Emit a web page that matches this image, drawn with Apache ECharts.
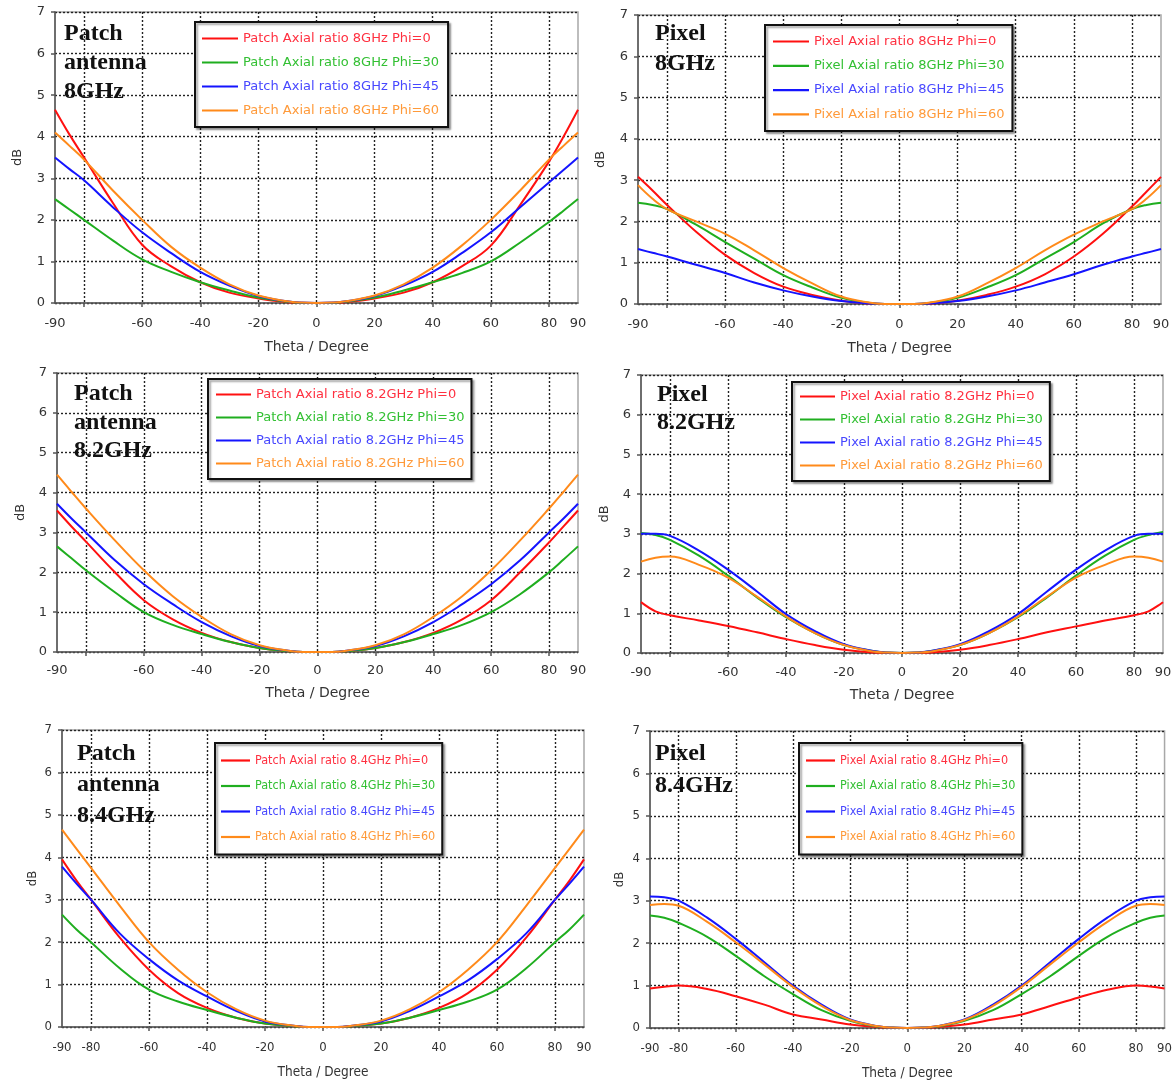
<!DOCTYPE html>
<html><head><meta charset="utf-8">
<script src="https://cdn.jsdelivr.net/npm/echarts@6/dist/echarts.min.js"></script>
<style>html,body{margin:0;padding:0;background:#fff}#c{width:1175px;height:1084px}</style>
</head><body><div id="c"></div><script>
// Theta (degrees) sample points
const theta = [-90,-85,-80,-70,-60,-50,-40,-30,-20,-10,-5,0,5,10,20,30,40,50,60,70,80,85,90];
const phiLabels = ['Phi=0','Phi=30','Phi=45','Phi=60'];
const xLabelsTop = [-90,-60,-40,-20,0,20,40,60,80,90];
const xLabelsBottom = [-90,-80,-60,-40,-20,0,20,40,60,80,90];
const xGridTicks = [-80,-60,-40,-20,0,20,40,60,80];

// Patch 8GHz
const p8_phi0  = [4.65,4.05,3.5,2.4,1.4,0.88,0.5,0.25,0.11,0.02,0,0,0,0.02,0.11,0.25,0.5,0.88,1.38,2.35,3.4,4.0,4.65];
const p8_phi30 = [2.5,2.25,2.0,1.5,1.05,0.75,0.5,0.3,0.13,0.03,0,0,0,0.03,0.13,0.3,0.5,0.72,1.0,1.45,1.95,2.22,2.5];
const p8_phi45 = [3.5,3.22,2.95,2.3,1.7,1.2,0.75,0.42,0.17,0.04,0.01,0,0.01,0.04,0.17,0.42,0.75,1.2,1.7,2.3,2.9,3.2,3.5];
const p8_phi60 = [4.1,3.78,3.45,2.7,2.0,1.35,0.85,0.45,0.18,0.04,0.01,0,0.01,0.04,0.18,0.45,0.85,1.38,2.0,2.7,3.45,3.78,4.1];
// Pixel 8GHz
const x8_phi0  = [3.08,2.75,2.4,1.75,1.19,0.75,0.42,0.22,0.08,0.01,0,0,0,0.01,0.08,0.22,0.42,0.72,1.15,1.7,2.36,2.72,3.08];
const x8_phi30 = [2.45,2.4,2.3,1.92,1.5,1.1,0.7,0.4,0.15,0.02,0,0,0,0.02,0.15,0.4,0.7,1.1,1.5,1.95,2.3,2.4,2.45];
const x8_phi45 = [1.33,1.24,1.15,0.95,0.75,0.52,0.33,0.18,0.07,0.01,0,0,0,0.01,0.07,0.18,0.33,0.52,0.72,0.95,1.15,1.24,1.33];
const x8_phi60 = [2.88,2.55,2.3,2.0,1.7,1.3,0.87,0.5,0.18,0.03,0,0,0,0.03,0.18,0.5,0.87,1.3,1.68,2.0,2.3,2.55,2.88];
// Patch 8.2GHz
const p82_phi0  = [3.55,3.15,2.77,2.0,1.3,0.82,0.48,0.25,0.1,0.02,0,0,0,0.02,0.1,0.25,0.48,0.82,1.3,2.0,2.75,3.15,3.55];
const p82_phi30 = [2.65,2.35,2.05,1.5,1.0,0.68,0.45,0.25,0.1,0.02,0,0,0,0.02,0.1,0.25,0.45,0.68,1.0,1.45,2.0,2.32,2.65];
const p82_phi45 = [3.72,3.35,3.0,2.3,1.7,1.2,0.75,0.4,0.15,0.03,0,0,0,0.03,0.15,0.4,0.75,1.2,1.7,2.3,3.0,3.35,3.72];
const p82_phi60 = [4.45,4.02,3.6,2.8,2.05,1.4,0.88,0.45,0.17,0.03,0,0,0,0.03,0.17,0.45,0.88,1.4,2.05,2.8,3.6,4.02,4.45];
// Pixel 8.2GHz
const x82_phi0  = [1.28,1.05,0.95,0.82,0.68,0.52,0.35,0.2,0.08,0.01,0,0,0,0.01,0.08,0.2,0.35,0.52,0.67,0.82,0.95,1.05,1.28];
const x82_phi30 = [3.02,2.97,2.85,2.45,1.95,1.4,0.9,0.5,0.2,0.05,0.01,0,0.01,0.05,0.2,0.5,0.9,1.4,1.95,2.45,2.85,2.97,3.05];
const x82_phi45 = [3.0,3.0,2.95,2.58,2.1,1.55,0.98,0.55,0.22,0.05,0.01,0,0.01,0.05,0.22,0.55,0.98,1.55,2.1,2.58,2.95,3.0,3.0];
const x82_phi60 = [2.3,2.4,2.43,2.22,1.9,1.42,0.92,0.5,0.2,0.04,0.01,0,0.01,0.04,0.2,0.5,0.92,1.42,1.9,2.22,2.43,2.4,2.3];
// Patch 8.4GHz
const p84_phi0  = [3.95,3.45,3.0,2.1,1.35,0.8,0.45,0.22,0.08,0.02,0,0,0,0.02,0.08,0.22,0.45,0.8,1.35,2.1,3.0,3.45,3.95];
const p84_phi30 = [2.65,2.3,2.0,1.38,0.88,0.6,0.4,0.22,0.08,0.02,0,0,0,0.02,0.08,0.22,0.4,0.6,0.88,1.38,2.0,2.3,2.65];
const p84_phi45 = [3.78,3.38,3.0,2.2,1.6,1.1,0.72,0.38,0.13,0.03,0,0,0,0.03,0.13,0.38,0.72,1.1,1.6,2.2,3.0,3.38,3.78];
const p84_phi60 = [4.65,4.2,3.75,2.85,2.0,1.35,0.82,0.42,0.15,0.03,0,0,0,0.03,0.15,0.42,0.82,1.35,2.0,2.85,3.75,4.2,4.65];
// Pixel 8.4GHz
const x84_phi0  = [0.93,0.97,1.0,0.92,0.75,0.55,0.32,0.2,0.08,0.02,0,0,0,0.02,0.08,0.2,0.32,0.52,0.72,0.9,1.0,0.98,0.93];
const x84_phi30 = [2.65,2.6,2.48,2.15,1.7,1.22,0.8,0.42,0.17,0.03,0.01,0,0.01,0.03,0.17,0.42,0.8,1.22,1.7,2.15,2.48,2.6,2.65];
const x84_phi45 = [3.1,3.08,3.0,2.6,2.1,1.55,1.0,0.55,0.2,0.04,0.01,0,0.01,0.04,0.2,0.55,1.0,1.55,2.1,2.6,3.0,3.08,3.1];
const x84_phi60 = [2.9,2.92,2.88,2.5,2.02,1.5,0.97,0.52,0.19,0.04,0.01,0,0.01,0.04,0.19,0.52,0.97,1.5,2.02,2.5,2.88,2.92,2.9];

const lineColors = ['#ff1010','#1fae1f','#1414ff','#ff8a1a'];
const textColors = ['#ff3040','#33c033','#4848ff','#ff9a3a'];

const NORMAL = "'DejaVu Sans', Verdana, sans-serif";
const NARROW = "'DejaVu Sans Condensed', 'Liberation Sans Narrow', 'Liberation Sans', sans-serif";

const panels = [
  {title:'Patch\nantenna\n8GHz', prefix:'Patch Axial ratio 8GHz ', data:[p8_phi0,p8_phi30,p8_phi45,p8_phi60],
   grid:{left:55,top:12,width:523,height:291}, tt:{left:64,top:19,lh:29},
   lg:{left:195,top:22,pad:[9,9,9,7],gap:9,iw:36}, narrow:false, lblM:14, nameGap:37, yGap:31},
  {title:'Pixel\n8GHz', prefix:'Pixel Axial ratio 8GHz ', data:[x8_phi0,x8_phi30,x8_phi45,x8_phi60],
   grid:{left:638,top:15,width:523,height:289}, tt:{left:655,top:19,lh:30},
   lg:{left:765,top:25,pad:[9,8,9,8],gap:9.3,iw:36}, narrow:false, lblM:14, nameGap:37, yGap:31},
  {title:'Patch\nantenna\n8.2GHz', prefix:'Patch Axial ratio 8.2GHz ', data:[p82_phi0,p82_phi30,p82_phi45,p82_phi60],
   grid:{left:57,top:373,width:521,height:279}, tt:{left:74,top:380,lh:28.5},
   lg:{left:208,top:379,pad:[8,7,8,8],gap:8,iw:35}, narrow:false, lblM:12, nameGap:34, yGap:30},
  {title:'Pixel\n8.2GHz', prefix:'Pixel Axial ratio 8.2GHz ', data:[x82_phi0,x82_phi30,x82_phi45,x82_phi60],
   grid:{left:641,top:375,width:522,height:278}, tt:{left:657,top:381,lh:28},
   lg:{left:792,top:382,pad:[7,7,8,8],gap:8,iw:35}, narrow:false, lblM:13, nameGap:35, yGap:30},
  {title:'Patch\nantenna\n8.4GHz', prefix:'Patch Axial ratio 8.4GHz ', data:[p84_phi0,p84_phi30,p84_phi45,p84_phi60],
   grid:{left:62,top:730,width:522,height:297}, tt:{left:77,top:738,lh:31},
   lg:{left:215,top:743,pad:[10,7,10,6],gap:10.5,iw:29}, narrow:true, lblM:14, nameGap:38, yGap:23},
  {title:'Pixel\n8.4GHz', prefix:'Pixel Axial ratio 8.4GHz ', data:[x84_phi0,x84_phi30,x84_phi45,x84_phi60],
   grid:{left:650,top:731,width:515,height:297}, tt:{left:655,top:738,lh:32},
   lg:{left:799,top:743,pad:[10,7,10,7],gap:10.5,iw:29}, narrow:true, lblM:14, nameGap:38, yGap:24}
];

const option = {
  animation:false,
  backgroundColor:'#fff',
  title:[], grid:[], xAxis:[], yAxis:[], legend:[], series:[]
};

panels.forEach((p,i)=>{
  const fam = p.narrow ? NARROW : NORMAL;
  const tickFs = 13;
  const legFs = p.narrow ? 12.5 : 13;
  option.grid.push({left:p.grid.left, top:p.grid.top, width:p.grid.width, height:p.grid.height,
    show:true, borderColor:'#a8a8a8', borderWidth:1.5, backgroundColor:'transparent'});
  option.title.push({text:p.title, left:p.tt.left, top:p.tt.top, padding:0,
    textStyle:{fontFamily:"'Liberation Serif','Times New Roman',serif", fontWeight:'bold', fontSize:24, lineHeight:p.tt.lh, color:'#111'}});
  option.xAxis.push({gridIndex:i, type:'value', min:-90, max:90,
    name:'Theta / Degree', nameLocation:'middle', nameGap:p.nameGap,
    nameTextStyle:{fontFamily:fam, fontSize:p.narrow?13.5:14, color:'#333'},
    axisLine:{onZero:false, lineStyle:{color:'#555', width:1.5}},
    axisTick:{show:true, customValues:xGridTicks, length:4, lineStyle:{color:'#555', width:1.5}},
    axisLabel:{customValues:p.narrow?xLabelsBottom:xLabelsTop, margin:p.lblM, fontFamily:fam, fontSize:tickFs, color:'#333'},
    splitLine:{show:true, lineStyle:{type:[2,2], color:'#222', width:1.4}}
  });
  option.yAxis.push({gridIndex:i, type:'value', min:0, max:7, interval:1,
    name:'dB', nameLocation:'middle', nameGap:p.yGap, nameRotate:90,
    nameTextStyle:{fontFamily:fam, fontSize:13, color:'#333'},
    axisLine:{show:true, onZero:false, lineStyle:{color:'#555', width:1.5}},
    axisTick:{show:true, length:4, lineStyle:{color:'#555', width:1.5}},
    axisLabel:{margin:10, fontFamily:fam, fontSize:tickFs, color:'#333'},
    splitLine:{show:true, lineStyle:{type:[2,2], color:'#222', width:1.4}}
  });
  const names = phiLabels.map(ph=>p.prefix+ph);
  option.legend.push({
    orient:'vertical', left:p.lg.left, top:p.lg.top, padding:p.lg.pad, itemGap:p.lg.gap,
    itemWidth:p.lg.iw, itemHeight:2.2, icon:'rect',
    backgroundColor:'#fff', borderColor:'#111', borderWidth:2,
    shadowColor:'rgba(0,0,0,0.35)', shadowBlur:2, shadowOffsetX:2, shadowOffsetY:2,
    selectedMode:false,
    textStyle:{fontFamily:fam, fontSize:legFs, lineHeight:15},
    data:names.map((n,k)=>({name:n, itemStyle:{color:lineColors[k]}, textStyle:{color:textColors[k]}}))
  });
  names.forEach((n,k)=>{
    option.series.push({type:'line', name:n, xAxisIndex:i, yAxisIndex:i,
      data:theta.map((t,j)=>[t, p.data[k][j]]),
      symbol:'none', smooth:0.4, clip:true,
      lineStyle:{width:2, color:lineColors[k]}, itemStyle:{color:lineColors[k]}, z:2+k});
  });
});

const chart = echarts.init(document.getElementById('c'), null, {renderer:'canvas'});
chart.setOption(option);
</script></body></html>
